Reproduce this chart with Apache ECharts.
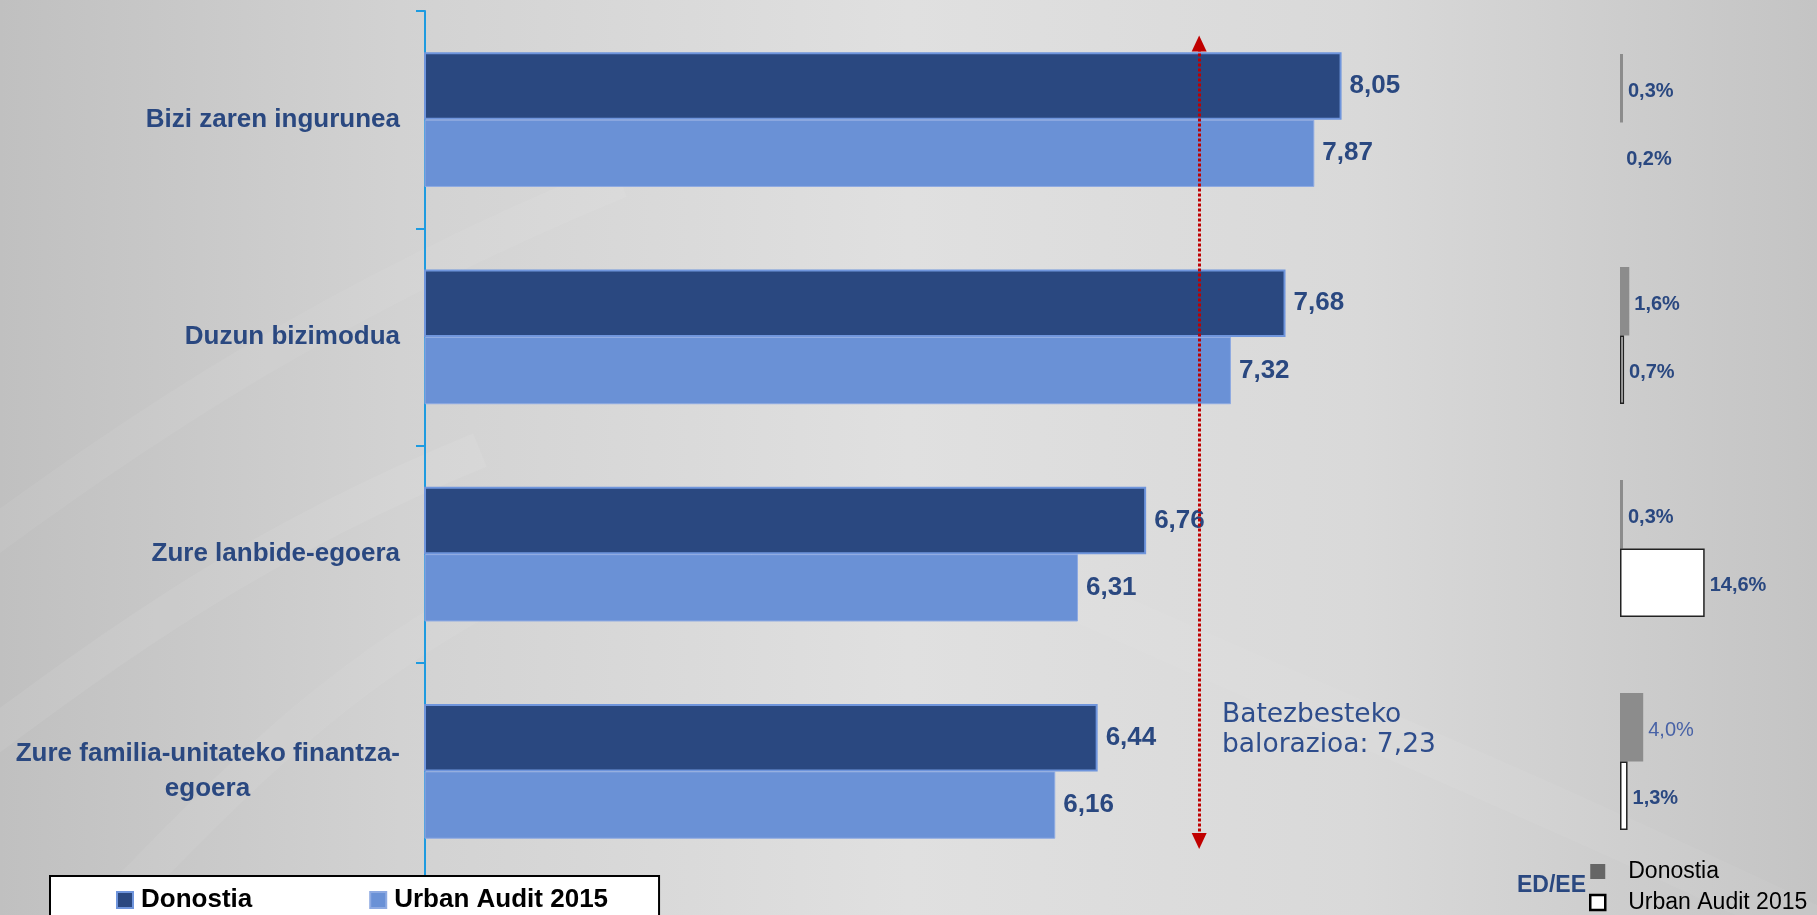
<!DOCTYPE html>
<html>
<head>
<meta charset="utf-8">
<script src="https://cdn.jsdelivr.net/npm/echarts@6/dist/echarts.min.js"></script>
<style>
html,body{margin:0;padding:0;overflow:hidden;}
#chart{width:1817px;height:915px;}
</style>
</head>
<body>
<div id="chart"></div>
<script>
// ---- data ----
const categories = ['Bizi zaren ingurunea', 'Duzun bizimodua', 'Zure lanbide-egoera', 'Zure familia-unitateko finantza-egoera'];
const seriesNames = ['Donostia', 'Urban Audit 2015'];
const donostia = [8.05, 7.68, 6.76, 6.44];
const urbanAudit = [7.87, 7.32, 6.31, 6.16];
const edDonostia = [0.3, 1.6, 0.3, 4.0];
const edUrban = [0.2, 0.7, 14.6, 1.3];
const edTitle = 'ED/EE';
const averageText = 'Batezbesteko\nbalorazioa: 7,23';
const avgLineValue = 7.11;          // position of the dotted line as drawn
const avgLineSpan = [0.15, 3.82];   // vertical extent in category-band units

// ---- styles ----
const DARK = '#2A4880';
const LIGHT = '#6A91D6';
const FONT = 'Liberation Sans, Arial, sans-serif';

const measureCtx = document.createElement('canvas').getContext('2d');
measureCtx.font = 'bold 26px "Liberation Sans"';

function wrapLabel(s) {
  if (s.length <= 28) return s;
  const idx = s.lastIndexOf('-');
  return { l1: s.slice(0, idx + 1), l2: s.slice(idx + 1) };
}
function longestFirstLine() {
  let w = 0;
  categories.forEach(c => {
    const r = wrapLabel(c);
    if (typeof r !== 'string') w = Math.max(w, measureCtx.measureText(r.l1).width);
  });
  return Math.ceil(w);
}

const chart = echarts.init(document.getElementById('chart'));
const comma = (v, d) => v.toFixed(d).replace('.', ',');

// soft decorative background swooshes
function swoosh(x1, y1, cx1, cy1, cx2, cy2, x2, y2, w, op) {
  return {
    type: 'bezierCurve', silent: true, z: -10,
    shape: { x1, y1, cpx1: cx1, cpy1: cy1, cpx2: cx2, cpy2: cy2, x2, y2 },
    style: { stroke: 'rgba(255,255,255,' + op + ')', lineWidth: w, fill: null,
             shadowBlur: 40, shadowColor: 'rgba(255,255,255,' + (op * 2) + ')' }
  };
}

const option = {
  animation: false,
  backgroundColor: new echarts.graphic.LinearGradient(0, 0, 1, 0, [
    { offset: 0, color: '#c0c0c0' },
    { offset: 0.22, color: '#d2d2d2' },
    { offset: 0.5, color: '#e0e0e0' },
    { offset: 0.75, color: '#d9d9d9' },
    { offset: 1, color: '#c4c4c4' }
  ]),
  graphic: [
    swoosh(-40, 560, 150, 420, 330, 300, 620, 180, 36, 0.06),
    swoosh(-40, 760, 120, 640, 260, 540, 480, 450, 36, 0.07),
    swoosh(60, 960, 200, 820, 300, 700, 480, 600, 36, 0.06),
    swoosh(1080, 600, 1300, 700, 1550, 800, 1860, 950, 44, 0.05)
  ],
  title: [
    { text: edTitle, left: 1517, top: 874, padding: 0,
      textStyle: { fontFamily: FONT, fontSize: 23, fontWeight: 'bold', color: DARK } },
    { text: averageText, left: 1222, top: 700, padding: 0,
      textStyle: { fontFamily: 'DejaVu Sans', fontSize: 26.5, fontWeight: 'normal', color: '#2E4D8C', lineHeight: 30 } }
  ],
  legend: [
    {
      data: seriesNames,
      left: 50, top: 876,
      padding: [11, 51, 30, 66],
      itemGap: 117,
      itemWidth: 16, itemHeight: 16,
      icon: 'rect',
      backgroundColor: '#ffffff',
      borderColor: '#000000', borderWidth: 2,
      textStyle: { fontFamily: FONT, fontSize: 26, fontWeight: 'bold', color: '#000', padding: [0, 0, 0, 3] },
      selectedMode: false
    },
    {
      data: [
        { name: 'Donostia ', itemStyle: { color: '#666666', borderWidth: 0 } },
        { name: 'Urban Audit 2015 ', itemStyle: { color: '#ffffff', borderColor: '#000', borderWidth: 2.5 } }
      ],
      orient: 'vertical',
      left: 1589, top: 860,
      padding: 0,
      itemGap: 8,
      itemWidth: 15, itemHeight: 15,
      icon: 'rect',
      formatter: n => n.trim(),
      textStyle: { fontFamily: FONT, fontSize: 23, color: '#000', lineHeight: 22, padding: [0, 0, 0, 18] },
      selectedMode: false
    }
  ],
  grid: [
    { left: 425, right: 180, top: 11, bottom: 35 },
    { left: 1620, width: 116, top: 16, bottom: 47 }
  ],
  xAxis: [
    { type: 'value', gridIndex: 0, min: 2, max: 10, show: false, splitLine: { show: false } },
    { type: 'value', gridIndex: 1, min: 0, max: 20, show: false, splitLine: { show: false } }
  ],
  yAxis: [
    {
      type: 'category', gridIndex: 0, data: categories, inverse: true,
      axisLine: { lineStyle: { color: '#1E9BE0', width: 2 } },
      axisTick: { show: true, length: 9, lineStyle: { color: '#1E9BE0', width: 2 } },
      axisLabel: {
        margin: 25,
        fontFamily: FONT, fontSize: 26, fontWeight: 'bold', color: DARK,
        lineHeight: 35,
        formatter: s => {
          const r = wrapLabel(s);
          if (typeof r === 'string') return r;
          return '{a|' + r.l1 + '}\n{b' + '|' + r.l2 + '}';
        },
        rich: {
          a: { fontFamily: FONT, fontSize: 26, fontWeight: 'bold', color: DARK, lineHeight: 35 },
          b: { fontFamily: FONT, fontSize: 26, fontWeight: 'bold', color: DARK, lineHeight: 35,
               width: longestFirstLine(), align: 'center' }
        }
      }
    },
    { type: 'value', gridIndex: 0, min: 0, max: 4, inverse: true, show: false, splitLine: { show: false } },
    { type: 'category', gridIndex: 1, data: categories, inverse: true, show: false }
  ],
  series: [
    {
      name: seriesNames[0], type: 'bar', xAxisIndex: 0, yAxisIndex: 0,
      data: donostia, barGap: '0%', barCategoryGap: '38%',
      itemStyle: { color: DARK, borderColor: '#6f95dc', borderWidth: 2 },
      label: { show: true, position: 'right', distance: 8, formatter: p => comma(p.value, 2),
               fontFamily: FONT, fontSize: 26, fontWeight: 'bold', color: DARK }
    },
    {
      name: seriesNames[1], type: 'bar', xAxisIndex: 0, yAxisIndex: 0,
      data: urbanAudit, barGap: '0%', barCategoryGap: '38%',
      itemStyle: { color: LIGHT, borderColor: '#8eaae2', borderWidth: 1 },
      label: { show: true, position: 'right', distance: 8, formatter: p => comma(p.value, 2),
               fontFamily: FONT, fontSize: 26, fontWeight: 'bold', color: DARK }
    },
    {
      name: 'Donostia ', type: 'bar', xAxisIndex: 1, yAxisIndex: 2,
      data: edDonostia.map(v => v === Math.max(...edDonostia)
        ? { value: v, label: { fontWeight: 'normal', color: '#4862A6' } } : v),
      barGap: '0%', barCategoryGap: '35.7%', barMinHeight: 3,
      itemStyle: { color: '#8C8C8C' },
      label: { show: true, position: 'right', distance: 5, offset: [0, 3], formatter: p => comma(p.value, 1) + '%',
               fontFamily: FONT, fontSize: 20, fontWeight: 'bold', color: DARK }
    },
    {
      name: 'Urban Audit 2015 ', type: 'bar', xAxisIndex: 1, yAxisIndex: 2,
      data: edUrban.map(v => v < 0.5 ? { value: v, itemStyle: { borderWidth: 0, color: 'rgba(0,0,0,0)' } } : v),
      barGap: '0%', barCategoryGap: '35.7%',
      itemStyle: { color: '#ffffff', borderColor: '#222', borderWidth: 1.5 },
      label: { show: true, position: 'right', distance: 5, offset: [0, 3], formatter: p => comma(p.value, 1) + '%',
               fontFamily: FONT, fontSize: 20, fontWeight: 'bold', color: DARK }
    },
    {
      name: 'avg', type: 'line', xAxisIndex: 0, yAxisIndex: 1,
      data: [[avgLineValue, avgLineSpan[0]], [avgLineValue, avgLineSpan[1]]],
      symbol: 'none', lineStyle: { opacity: 0 }, silent: true,
      markLine: {
        silent: true,
        symbol: ['triangle', 'triangle'],
        symbolSize: [15, 16],
        label: { show: false },
        lineStyle: { color: '#C00000', width: 3, type: [3, 2] },
        emphasis: { disabled: true },
        data: [[{ coord: [avgLineValue, avgLineSpan[0]] }, { coord: [avgLineValue, avgLineSpan[1]] }]]
      }
    }
  ]
};
chart.setOption(option);
</script>
</body>
</html>
